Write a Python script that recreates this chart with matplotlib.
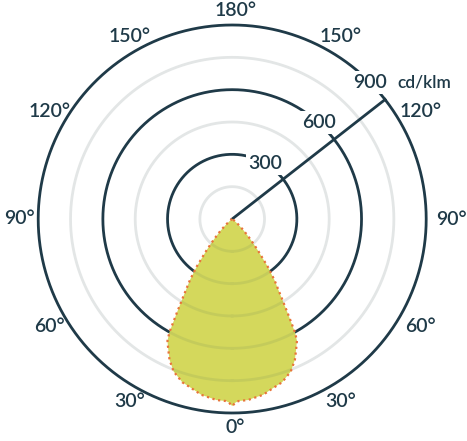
import numpy as np
import matplotlib
matplotlib.use("Agg")
import matplotlib.pyplot as plt
from matplotlib.transforms import ScaledTranslation

plt.rcParams['font.family'] = ['Lato', 'DejaVu Sans']

# ---- data (cd/klm vs. angle from nadir, symmetric) ----
gamma_deg = [0, 1, 2, 5, 7, 10, 14, 17, 21, 24, 26, 28, 29, 30.5, 32, 34.7,
             36.7, 39.4, 42, 45, 48, 52, 56, 60, 90, 120, 150, 180]
intensity = [868, 852, 845, 843, 836, 828, 805, 792, 758, 715, 676, 640, 600,
             508, 435, 344, 276, 186, 125, 75, 38, 12, 3, 0, 0, 0, 0, 0]

ring_values = [150, 300, 450, 600, 750, 900]
ring_major = [False, True, False, True, False, True]
ring_labels = ["300", "600", "900"]
ring_label_values = [300, 600, 900]
ring_label_theta = [149, 138, 134.6]
angle_ticks = [0, 30, 60, 90, 120, 150, 180, -150, -120, -90, -60, -30]
angle_tick_labels = ["0°", "30°", "60°", "90°", "120°", "150°", "180°",
                     "150°", "120°", "90°", "60°", "30°"]
unit_label = "cd/klm"

DARK = "#1f3a48"
LIGHT = "#e3e6e6"
FILL = "#d4d85c"
EDGE = "#e8743b"
WEIGHT = 'semibold'

W, H, DPI = 467, 441, 100
fig = plt.figure(figsize=(W / DPI, H / DPI), dpi=DPI)
cx, cy, R = 232.2, 219.0, 194.0
ax = fig.add_axes([(cx - R) / W, (H - cy - R) / H, 2 * R / W, 2 * R / H],
                  projection='polar')
ax.set_theta_zero_location('S')
ax.set_ylim(0, 900)
ax.set_axis_off()

tt = np.linspace(0, 2 * np.pi, 721)
for rv, major in zip(ring_values, ring_major):
    ax.plot(tt, np.full_like(tt, rv), color=DARK if major else LIGHT,
            lw=2.0, zorder=1, solid_capstyle='butt', clip_on=False)

# radial scale line
ax.plot([np.deg2rad(128), np.deg2rad(128)], [0, 900], color=DARK, lw=2.0,
        zorder=2, clip_on=False)

# build full symmetric curve
g = np.array(gamma_deg, dtype=float)
v = np.array(intensity, dtype=float)
theta_full = np.concatenate([-g[::-1], g[1:]])
val_full = np.concatenate([v[::-1], v[1:]])
th = np.deg2rad(theta_full)

poly = ax.fill(th, val_full, color=FILL, alpha=1.0, zorder=3, lw=0)[0]
# faint grid lines visible through the fill
for rv in ring_values:
    ln, = ax.plot(tt, np.full_like(tt, rv), color="#9fb05a", lw=2.0,
                  alpha=0.3, zorder=3.5)
    ln.set_clip_path(poly)
ax.plot(th, val_full, color=EDGE, lw=1.6, linestyle=(0, (1, 1.6)), zorder=4)

# ring labels with white background to interrupt circles
for lab, rv, ang in zip(ring_labels, ring_label_values, ring_label_theta):
    ax.text(np.deg2rad(ang), rv, lab, ha='center', va='center', fontsize=14,
            color=DARK, zorder=6, clip_on=False, fontweight=WEIGHT,
            bbox=dict(boxstyle='square,pad=0.15', fc='white', ec='none'))

ax.text(np.deg2rad(134.6), 902, unit_label, ha='left', va='center',
        fontsize=12.5, color=DARK, zorder=6, clip_on=False, fontweight=WEIGHT,
        transform=ax.transData + ScaledTranslation(27 / DPI, 0,
                                                   fig.dpi_scale_trans))

off = ScaledTranslation(3 / DPI, 0, fig.dpi_scale_trans)
for ang, lab in zip(angle_ticks, angle_tick_labels):
    s = np.sin(np.deg2rad(ang)) ** 2
    r_lab = 968 + 34 * s
    ax.text(np.deg2rad(ang), r_lab, lab, ha='center', va='center',
            fontsize=14, color=DARK, clip_on=False, fontweight=WEIGHT,
            transform=ax.transData + off)

fig.savefig("out.png", dpi=DPI, facecolor='white')
